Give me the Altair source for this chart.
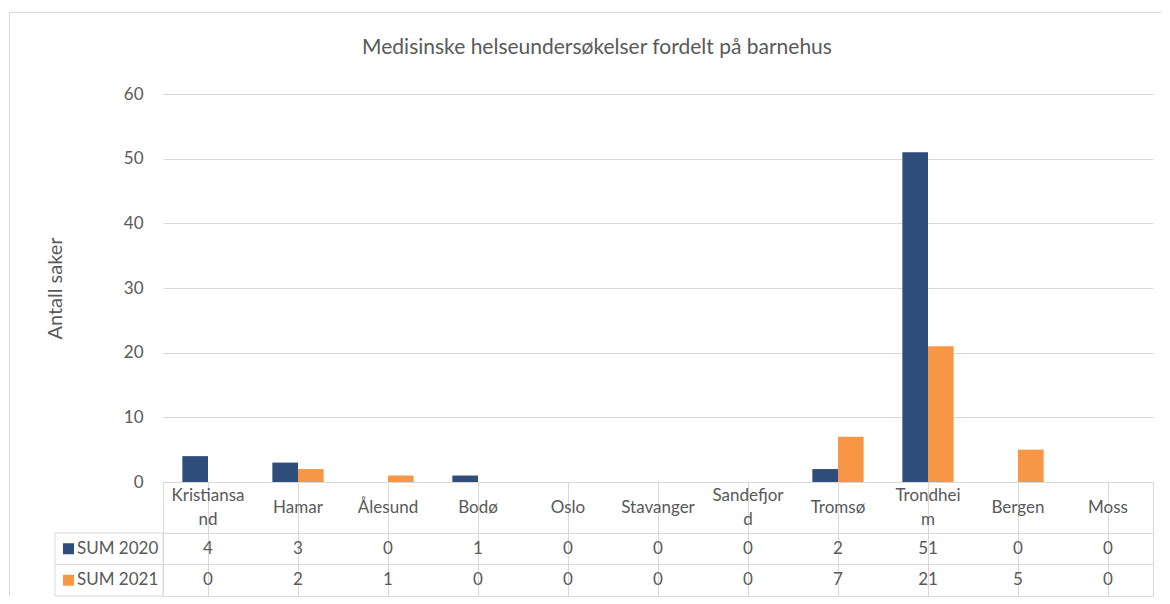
import altair as alt
import pandas as pd

# ---- data ----
categories = ["Kristiansand", "Hamar", "Ålesund", "Bodø", "Oslo", "Stavanger",
              "Sandefjord", "Tromsø", "Trondheim", "Bergen", "Moss"]
header_labels = ["Kristiansa\nnd", "Hamar", "Ålesund", "Bodø", "Oslo", "Stavanger",
                 "Sandefjor\nd", "Tromsø", "Trondhei\nm", "Bergen", "Moss"]
series = ["SUM 2020", "SUM 2021"]
sum_2020 = [4, 3, 0, 1, 0, 0, 0, 2, 51, 0, 0]
sum_2021 = [0, 2, 1, 0, 0, 0, 0, 7, 21, 5, 0]
colors = ["#2E4D7B", "#F79646"]
y_ticks = [0, 10, 20, 30, 40, 50, 60]

title_text = "Medisinske helseundersøkelser fordelt på barnehus"
y_title = "Antall saker"

rows = []
for s, vals in zip(series, [sum_2020, sum_2021]):
    for c, v in zip(categories, vals):
        rows.append({"city": c, "series": s, "value": v})
df = pd.DataFrame(rows)
df_head = pd.DataFrame({"city": categories, "label": header_labels})
df_series = pd.DataFrame({"series": series})
df_title = pd.DataFrame({"t": [title_text]})
one = pd.DataFrame({"k": [0]})

FONT = "Lato"
TXT = "#595959"
GRID = "#D9D9D9"
FS = 17

W = 990
H_PLOT = 388
H_HEAD = 51
H_ROWS = 63
TOP_FRAME = -81.5

color_scale = alt.Scale(domain=series, range=colors)

# ---- top panel: bars ----
bars = alt.Chart(df).mark_bar().encode(
    x=alt.X("city:N", sort=categories,
            scale=alt.Scale(domain=categories, paddingInner=0.43, paddingOuter=0.215),
            axis=None),
    xOffset=alt.XOffset("series:N", scale=alt.Scale(domain=series, paddingInner=0, paddingOuter=0)),
    y=alt.Y("value:Q", scale=alt.Scale(domain=[0, 60], nice=False),
            axis=alt.Axis(values=y_ticks, title=y_title, grid=True, gridColor=GRID,
                          ticks=False, domain=False, labelPadding=20,
                          labelFont=FONT, labelFontSize=FS, labelColor=TXT,
                          titleFont=FONT, titleFontSize=20, titleColor=TXT,
                          titleFontWeight="normal", titlePadding=58)),
    color=alt.Color("series:N", scale=color_scale, legend=None),
)

frame_left_top = alt.Chart(one).mark_rule(color=GRID, strokeWidth=1).encode(
    x=alt.value(-153.5), y=alt.value(TOP_FRAME), y2=alt.value(H_PLOT))
frame_top = alt.Chart(one).mark_rule(color=GRID, strokeWidth=1).encode(
    x=alt.value(-153.5), x2=alt.value(998), y=alt.value(TOP_FRAME))
title_mark = alt.Chart(df_title).mark_text(
    font=FONT, fontSize=21, color=TXT, align="center", baseline="middle"
).encode(x=alt.value(434), y=alt.value(-46), text="t:N")

top = alt.layer(frame_left_top, frame_top, title_mark, bars).properties(
    width=W, height=H_PLOT,
    view=alt.ViewBackground(stroke="transparent"),
)

# ---- header row of the data table ----
table_x_axis = alt.Axis(labels=False, ticks=False, domain=False, grid=True,
                        gridColor=GRID, bandPosition=0, title=None)
x_table = alt.X("city:N", sort=categories,
                scale=alt.Scale(domain=categories, paddingInner=0, paddingOuter=0),
                axis=table_x_axis)

head_single = alt.Chart(df_head).transform_filter(
    "indexof(datum.label, '\\n') < 0"
).mark_text(
    font=FONT, fontSize=FS, color=TXT, baseline="middle", align="center"
).encode(x=x_table, y=alt.value(H_HEAD / 2), text="label:N")

head_double = alt.Chart(df_head).transform_filter(
    "indexof(datum.label, '\\n') >= 0"
).mark_text(
    font=FONT, fontSize=FS, color=TXT, lineBreak="\n", lineHeight=24,
    baseline="middle", align="center"
).encode(x=x_table, y=alt.value(H_HEAD / 2 - 12), text="label:N")

frame_left_head = alt.Chart(one).mark_rule(color=GRID, strokeWidth=1).encode(
    x=alt.value(-153.5), y=alt.value(0), y2=alt.value(H_HEAD))

header = alt.layer(frame_left_head, head_single, head_double).properties(
    width=W, height=H_HEAD, view=alt.ViewBackground(stroke=GRID))

# ---- value rows of the data table ----
y_rows = alt.Y("series:N", sort=series,
               scale=alt.Scale(domain=series, paddingInner=0, paddingOuter=0),
               axis=alt.Axis(labels=False, ticks=False, domain=False, grid=True,
                             gridColor=GRID, bandPosition=0, title=None))

val_text = alt.Chart(df).mark_text(
    font=FONT, fontSize=FS, color=TXT, baseline="middle", align="center"
).encode(x=x_table, y=y_rows, text="value:Q")
legend_cells = alt.Chart(df_series).mark_rect(
    fill="transparent", stroke=GRID, strokeWidth=1
).encode(x=alt.value(-108), x2=alt.value(0), y=y_rows)
legend_keys = alt.Chart(df_series).mark_square(size=121, opacity=1).encode(
    x=alt.value(-94.5), y=y_rows,
    color=alt.Color("series:N", scale=color_scale, legend=None))
legend_text = alt.Chart(df_series).mark_text(
    font=FONT, fontSize=FS, color=TXT, align="left", baseline="middle"
).encode(x=alt.value(-86), y=y_rows, text="series:N")
frame_left_rows = alt.Chart(one).mark_rule(color=GRID, strokeWidth=1).encode(
    x=alt.value(-153.5), y=alt.value(0), y2=alt.value(H_ROWS))

rows_panel = alt.layer(frame_left_rows, legend_cells, legend_keys, legend_text, val_text).properties(
    width=W, height=H_ROWS, view=alt.ViewBackground(stroke=GRID))

chart = alt.vconcat(top, header, rows_panel, spacing=0, bounds="flush").properties(
    padding={"left": 0, "top": 3, "right": 0, "bottom": 0},
    autosize=alt.AutoSizeParams(type="pad"),
).resolve_scale(color="shared").configure(font=FONT)

chart.save("out.html", embed_options={"renderer": "svg", "actions": False})
